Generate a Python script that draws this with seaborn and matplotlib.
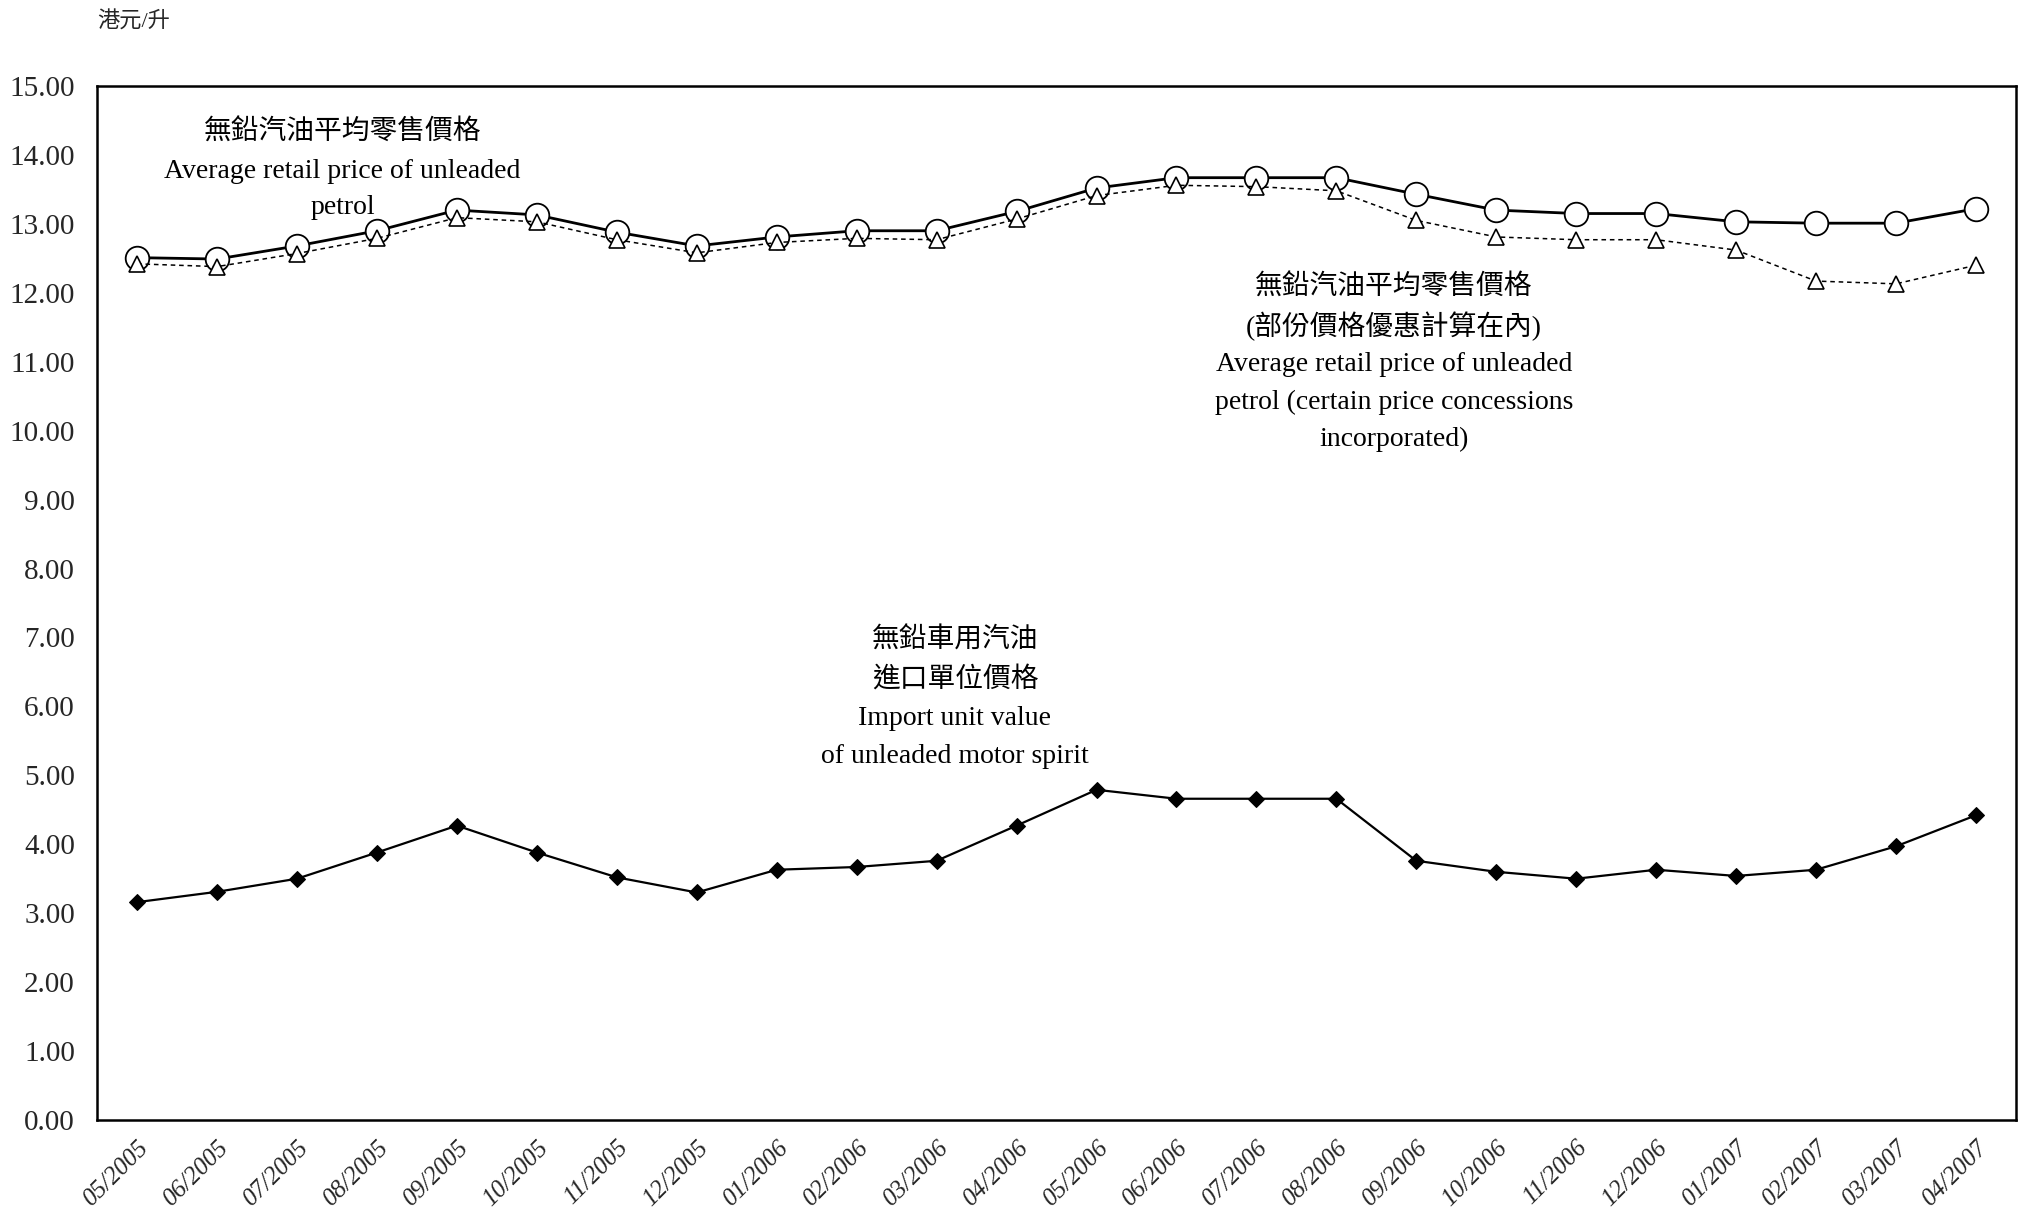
import pandas as pd
import numpy as np
import seaborn as sns
import matplotlib.pyplot as plt

months = ["05/2005", "06/2005", "07/2005", "08/2005", "09/2005", "10/2005",
          "11/2005", "12/2005", "01/2006", "02/2006", "03/2006", "04/2006",
          "05/2006", "06/2006", "07/2006", "08/2006", "09/2006", "10/2006",
          "11/2006", "12/2006", "01/2007", "02/2007", "03/2007", "04/2007"]

retail = [12.51, 12.49, 12.68, 12.90, 13.20, 13.13, 12.88, 12.68, 12.81, 12.90,
          12.90, 13.18, 13.52, 13.67, 13.67, 13.67, 13.43, 13.20, 13.15, 13.15,
          13.03, 13.01, 13.01, 13.22]

retail_conc = [12.42, 12.38, 12.57, 12.79, 13.09, 13.03, 12.77, 12.58, 12.73, 12.79,
               12.77, 13.07, 13.41, 13.56, 13.54, 13.48, 13.05, 12.81, 12.77, 12.77,
               12.62, 12.17, 12.13, 12.40]

import_val = [3.16, 3.31, 3.50, 3.88, 4.27, 3.88, 3.52, 3.30, 3.63, 3.67,
              3.76, 4.27, 4.79, 4.66, 4.66, 4.66, 3.76, 3.60, 3.50, 3.63,
              3.54, 3.63, 3.97, 4.42]

unit_label = "港元/升"
note_retail = ["無鉛汽油平均零售價格", "Average retail price of unleaded", "petrol"]
note_conc = ["無鉛汽油平均零售價格", "(部份價格優惠計算在內)", "Average retail price of unleaded",
             "petrol (certain price concessions", "incorporated)"]
note_import = ["無鉛車用汽油", "進口單位價格", "Import unit value", "of unleaded motor spirit"]

df = pd.DataFrame({"idx": np.arange(len(months)), "month": months,
                   "retail": retail, "retail_conc": retail_conc, "import_val": import_val})

sns.set_style("white")
fonts = ["Liberation Serif", "Noto Sans CJK TC", "DejaVu Sans"]
plt.rcParams["font.family"] = fonts

fig = plt.figure(figsize=(20.24, 12.2), dpi=100)
ax = fig.add_axes([0.048, 0.082, 0.948, 0.8475])

sns.lineplot(data=df, x="idx", y="import_val", ax=ax, color="black", lw=1.6,
             marker="D", markersize=8, markerfacecolor="black", markeredgecolor="black")
sns.lineplot(data=df, x="idx", y="retail", ax=ax, color="black", lw=2.0,
             marker="o", markersize=17, markerfacecolor="white", markeredgecolor="black",
             markeredgewidth=1.3)
sns.lineplot(data=df, x="idx", y="retail_conc", ax=ax, color="black", lw=1.1,
             linestyle=(0, (3, 2.5)), marker="^", markersize=11,
             markerfacecolor="white", markeredgecolor="black", markeredgewidth=1.2)

ax.set_xlim(-0.5, len(months) - 0.5)
ax.set_ylim(0, 15)
ax.set_yticks(np.arange(0, 16, 1))
ax.set_yticklabels([f"{v:.2f}" for v in np.arange(0, 16, 1)], fontsize=21)
ax.set_xticks(df["idx"])
ax.set_xticklabels(months, rotation=45, ha="right", va="top", rotation_mode="anchor",
                   fontsize=18, style="italic")
ax.tick_params(axis="both", direction="in", length=4, width=1, color="black")
ax.tick_params(axis="y", pad=16)
ax.tick_params(axis="x", pad=12)
ax.set_xlabel("")
ax.set_ylabel("")
for s in ax.spines.values():
    s.set_color("black")
    s.set_linewidth(1.8)

def put(lines, x, ys):
    for t, y in zip(lines, ys):
        ax.text(x, y, t, ha="center", va="center", fontsize=20, color="black")

put(note_retail, 2.57, [14.33, 13.76, 13.24])
put(note_conc, 15.72, [12.08, 11.52, 10.96, 10.41, 9.87])
put(note_import, 10.23, [6.95, 6.39, 5.82, 5.28])

fig.text(0.048, 0.982, unit_label, ha="left", va="center", fontsize=16)

fig.savefig("out.png", dpi=100, facecolor="white")
plt.close()
